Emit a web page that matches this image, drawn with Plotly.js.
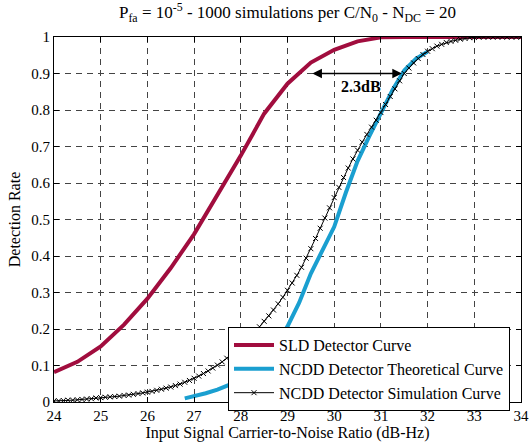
<!DOCTYPE html>
<html>
<head>
<meta charset="utf-8">
<script src="https://cdn.plot.ly/plotly-3.0.1.min.js"></script>
<style>html,body{margin:0;padding:0;background:#fff;}#chart{width:529px;height:448px;}</style>
</head>
<body>
<div id="chart"></div>
<script>
// SLD detector curve
const sldX = [24, 24.5, 25, 25.5, 26, 26.5, 27, 27.5, 28, 28.5, 29, 29.5, 30, 30.5, 31, 31.5, 32, 32.5, 33, 33.5, 34];
const sldY = [0.082, 0.11, 0.152, 0.212, 0.283, 0.367, 0.46, 0.565, 0.675, 0.79, 0.872, 0.93, 0.965, 0.988, 0.999, 1.0, 1.0, 1.0, 1.0, 1.0, 1.0];

// NCDD theoretical curve
const theoX = [26.8, 27.0, 27.25, 27.5, 27.75, 28.0, 28.25, 28.5, 28.75, 29.0, 29.25, 29.5, 29.75, 30.0, 30.25, 30.5, 30.75, 31.0, 31.25, 31.5, 31.75, 32.0];
const theoY = [0.01, 0.016, 0.024, 0.034, 0.047, 0.064, 0.087, 0.118, 0.158, 0.207, 0.272, 0.352, 0.415, 0.48, 0.574, 0.66, 0.728, 0.79, 0.855, 0.908, 0.94, 0.96];

// NCDD simulation curve (0.1 dB steps)
const simX = [24.0,24.1,24.2,24.3,24.4,24.5,24.6,24.7,24.8,24.9,
  25.0,25.1,25.2,25.3,25.4,25.5,25.6,25.7,25.8,25.9,
  26.0,26.1,26.2,26.3,26.4,26.5,26.6,26.7,26.8,26.9,
  27.0,27.1,27.2,27.3,27.4,27.5,27.6,27.7,27.8,27.9,
  28.0,28.1,28.2,28.3,28.4,28.5,28.6,28.7,28.8,28.9,
  29.0,29.1,29.2,29.3,29.4,29.5,29.6,29.7,29.8,29.9,
  30.0,30.1,30.2,30.3,30.4,30.5,30.6,30.7,30.8,30.9,
  31.0,31.1,31.2,31.3,31.4,31.5,31.6,31.7,31.8,31.9,
  32.0,32.1,32.2,32.3,32.4,32.5,32.6,32.7,32.8,32.9,
  33.0,33.1,33.2,33.3,33.4,33.5,33.6,33.7,33.8,33.9,34.0];
const simY = [0.003,0.003,0.004,0.005,0.005,0.006,0.007,0.008,0.009,0.011,
  0.012,0.013,0.014,0.015,0.016,0.018,0.019,0.021,0.023,0.025,
  0.027,0.029,0.032,0.035,0.038,0.041,0.045,0.049,0.054,0.059,
  0.065,0.071,0.078,0.085,0.093,0.101,0.110,0.120,0.130,0.141,
  0.152,0.164,0.177,0.190,0.206,0.221,0.236,0.252,0.269,0.287,
  0.306,0.326,0.347,0.369,0.394,0.420,0.448,0.476,0.504,0.532,
  0.560,0.588,0.615,0.641,0.666,0.690,0.712,0.733,0.753,0.772,
  0.793,0.815,0.837,0.858,0.880,0.900,0.915,0.929,0.941,0.952,
  0.961,0.968,0.975,0.980,0.985,0.988,0.991,0.994,0.996,0.998,
  0.999,1.0,1.0,1.0,1.0,1.0,1.0,1.0,1.0,1.0,1.0];

const xTicks = [24, 25, 26, 27, 28, 29, 30, 31, 32, 33, 34];
const yTicks = [0, 0.1, 0.2, 0.3, 0.4, 0.5, 0.6, 0.7, 0.8, 0.9, 1];
const yTickText = ['0', '0.1', '0.2', '0.3', '0.4', '0.5', '0.6', '0.7', '0.8', '0.9', '1'];

const serif = '"Liberation Serif", "Times New Roman", serif';

const traces = [
  {x: sldX, y: sldY, mode: 'lines', name: 'SLD Detector Curve',
   line: {color: '#a10d3e', width: 4}},
  {x: theoX, y: theoY, mode: 'lines', name: 'NCDD Detector Theoretical Curve',
   line: {color: '#1a9fd0', width: 4}},
  {x: simX, y: simY, mode: 'lines+markers', name: 'NCDD Detector Simulation Curve',
   line: {color: '#000', width: 1},
   marker: {symbol: 'x-thin-open', size: 5, color: '#000', line: {color: '#000', width: 1}}}
];

const axisCommon = {
  showline: true, linecolor: '#000', linewidth: 1, mirror: 'ticks',
  ticks: 'inside', ticklen: 5, tickcolor: '#000', tickwidth: 1,
  showgrid: true, gridcolor: '#444', gridwidth: 1, griddash: '6px,5px',
  zeroline: false, tickfont: {family: serif, size: 15, color: '#000'}
};

const layout = {
  width: 529, height: 448,
  margin: {l: 54, r: 8, t: 37, b: 46},
  paper_bgcolor: '#fff', plot_bgcolor: '#fff',
  font: {family: serif, color: '#000'},
  title: {
    text: 'P<sub>fa</sub> = 10<sup>-5</sup> - 1000 simulations per C/N<sub>0</sub> - N<sub>DC</sub> = 20',
    font: {family: serif, size: 17, color: '#000'},
    x: 0.5, xref: 'paper', xanchor: 'center', y: 0.972, yanchor: 'middle'
  },
  xaxis: Object.assign({}, axisCommon, {
    range: [24, 34], tickvals: xTicks,
    title: {text: 'Input Signal Carrier-to-Noise Ratio (dB-Hz)', font: {family: serif, size: 16, color: '#000'}, standoff: 3}
  }),
  yaxis: Object.assign({}, axisCommon, {
    range: [0, 1], tickvals: yTicks, ticktext: yTickText,
    title: {text: 'Detection Rate', font: {family: serif, size: 16, color: '#000'}, standoff: 6}
  }),
  showlegend: true,
  legend: {
    x: 0.3726, y: 0.205, xanchor: 'left', yanchor: 'top',
    bgcolor: '#fff', bordercolor: '#000', borderwidth: 1,
    font: {family: serif, size: 16, color: '#000'},
    tracegroupgap: 0, itemwidth: 40
  },
  annotations: [
    {x: 31.45, y: 0.9, ax: 29.5, ay: 0.9, xref: 'x', yref: 'y', axref: 'x', ayref: 'y',
     text: '', showarrow: true, arrowhead: 2, startarrowhead: 2, arrowside: 'end+start',
     arrowsize: 1.2, startarrowsize: 1.2, arrowwidth: 1.6, arrowcolor: '#000'},
    {x: 30.58, y: 0.864, xref: 'x', yref: 'y', text: '<b>2.3dB</b>', showarrow: false,
     font: {family: serif, size: 16, color: '#000'}}
  ]
};

Plotly.newPlot('chart', traces, layout, {displayModeBar: false, staticPlot: true});
</script>
</body>
</html>
